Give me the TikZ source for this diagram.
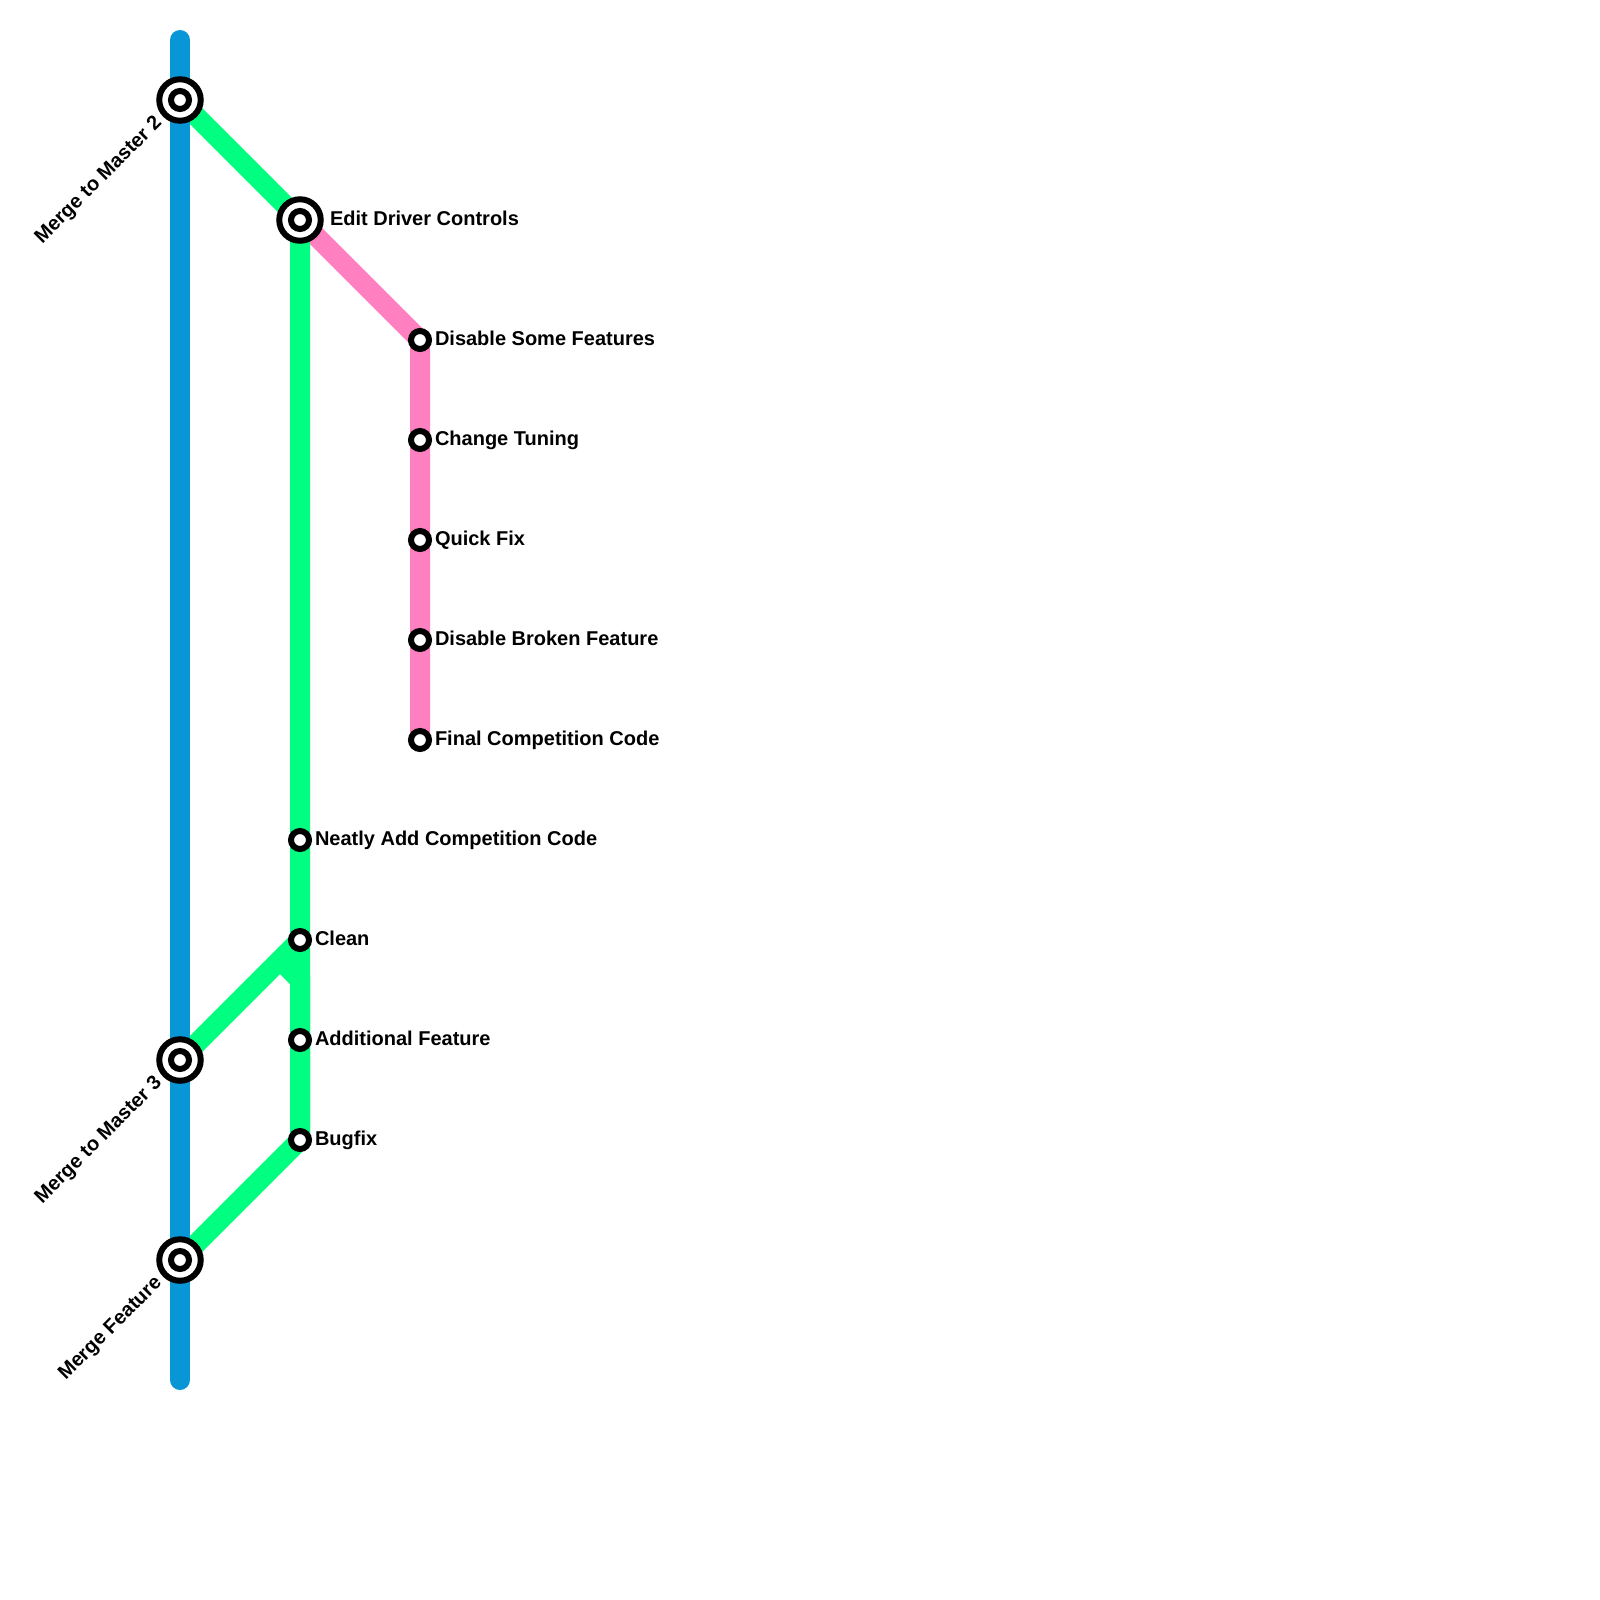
\documentclass[tikz,border=0pt]{standalone}
\usepackage{fontspec}
\setmainfont{Liberation Sans}
\usetikzlibrary{backgrounds}
\definecolor{lineblue}{RGB}{9,150,215}
\definecolor{linegreen}{RGB}{0,255,128}
\definecolor{linepink}{RGB}{255,128,192}
\tikzset{
  stsmall/.style={circle,draw=black,fill=white,line width=6pt,inner sep=0pt,outer sep=0pt,minimum size=18pt},
  stbig/.style={circle,draw=black,fill=white,line width=6pt,inner sep=0pt,outer sep=0pt,minimum size=41.5pt},
  lbl/.style={inner sep=0pt,outer sep=0pt,anchor=base west,font=\fontsize{20}{22}\selectfont\bfseries},
  lblrot/.style={inner sep=0pt,outer sep=0pt,anchor=base east,rotate=45,font=\fontsize{20}{22}\selectfont\bfseries},
  route/.style={line width=20pt,line join=miter}
}
\begin{document}
\begin{tikzpicture}[x=1pt,y=-1pt]
\useasboundingbox (0,0) rectangle (1600,1600);
% stations
\node[stbig] (m2) at (180,100) {};
\node[stsmall] (m2i) at (180,100) {};
\node[stbig] (edit) at (300,220) {};
\node[stsmall] (editi) at (300,220) {};
\node[stbig] (m3) at (180,1060) {};
\node[stsmall] (m3i) at (180,1060) {};
\node[stbig] (mf) at (180,1260) {};
\node[stsmall] (mfi) at (180,1260) {};
\node[stsmall] (neat) at (300,840) {};
\node[stsmall] (clean) at (300,940) {};
\node[stsmall] (addf) at (300,1040) {};
\node[stsmall] (bug) at (300,1140) {};
\node[stsmall] (dis) at (420,340) {};
\node[stsmall] (tun) at (420,440) {};
\node[stsmall] (quick) at (420,540) {};
\node[stsmall] (brok) at (420,640) {};
\node[stsmall] (final) at (420,740) {};
\coordinate (btop) at (180,40);
\coordinate (bbot) at (180,1380);
\coordinate (kink) at (300,980);
\coordinate (kinkend) at (285,965);
% labels
\node[lbl] (tdis) at (435,345.2) {Disable Some Features};
\node[lbl] (ttun) at (435,445.2) {Change Tuning};
\node[lbl] (tquick) at (435,545.2) {Quick Fix};
\node[lbl] (tbrok) at (435,645.2) {Disable Broken Feature};
\node[lbl] (tfinal) at (435,745.2) {Final Competition Code};
\node[lbl] (tedit) at (330,225.2) {Edit Driver Controls};
\node[lbl] (tneat) at (315,845.2) {Neatly Add Competition Code};
\node[lbl] (tclean) at (315,945.2) {Clean};
\node[lbl] (taddf) at (315,1045.2) {Additional Feature};
\node[lbl] (tbug) at (315,1145.2) {Bugfix};
\node[lblrot] (tm2) at (162.5,124) {Merge to Master 2};
\node[lblrot] (tm3) at (162.5,1084) {Merge to Master 3};
\node[lblrot] (tmf) at (162.5,1284) {Merge Feature};
% routes
\begin{scope}[on background layer]
\draw[route,linepink] (edit.center) -- (dis.center) -- (tun.center) -- (quick.center) -- (brok.center) -- (final.center);
\draw[route,linegreen] (m2.center) -- (edit.center) -- (neat.center) -- (clean.center) -- (addf.center) -- (bug.center) -- (mf.center);
\draw[route,linegreen] (m3.center) -- (clean.center);
\draw[route,linegreen] (bug.center) -- (kink) -- (kinkend);
\draw[route,lineblue,line cap=round] (btop) -- (m2.center) -- (m3.center) -- (mf.center) -- (bbot);
\end{scope}
\end{tikzpicture}
\end{document}
